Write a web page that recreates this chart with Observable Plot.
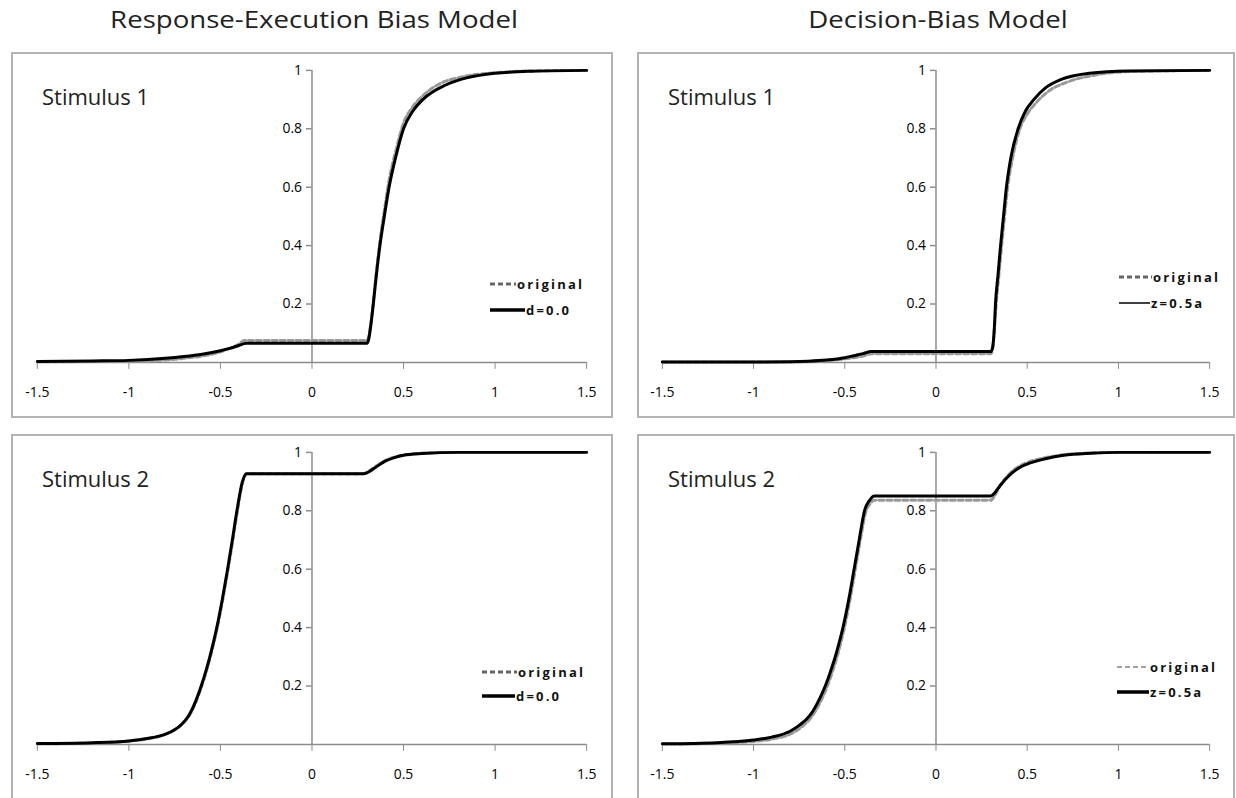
<!DOCTYPE html>
<html><head><meta charset="utf-8">
<script src="https://cdn.jsdelivr.net/npm/d3@7"></script>
<script src="https://cdn.jsdelivr.net/npm/@observablehq/plot@0.6"></script>
<style>
body{margin:0;background:#fff;}
#root{position:relative;width:1236px;height:798px;overflow:hidden;font-family:"Open Sans",sans-serif;}
.title{position:absolute;top:3px;font-size:23px;color:#222;white-space:nowrap;transform:translateX(-50%) scaleX(1.2);}
.panel{position:absolute;box-sizing:border-box;border:2px solid #b4b4b4;}
.stim{position:absolute;font-size:22px;color:#222;white-space:nowrap;line-height:1;}
.leg{position:absolute;display:flex;align-items:center;font-size:13px;font-weight:bold;letter-spacing:2.2px;color:#111;white-space:nowrap;height:16px;transform:translateY(-50%);}
.leg svg{display:block;margin-right:1px;}
</style></head><body><div id="root"></div><script>
// ---- tick values and labels ----
const xTicks = [-1.5, -1, -0.5, 0, 0.5, 1, 1.5];
const xTickLabels = ["-1.5", "-1", "-0.5", "0", "0.5", "1", "1.5"];
const yTicks = [0.2, 0.4, 0.6, 0.8, 1];
const yTickLabels = ["0.2", "0.4", "0.6", "0.8", "1"];
const modelTitles = ["Response-Execution Bias Model", "Decision-Bias Model"];
const stimulusLabels = ["Stimulus 1", "Stimulus 2"];
const originalLabel = "original";
const fitLabels = ["d=0.0", "z=0.5a"];

// ---- Response-Execution Bias Model, Stimulus 1 ----
const reS1OrigX = [-1.5, -1.2, -1.0, -0.8, -0.7, -0.6, -0.5, -0.45, -0.4, -0.37, 0, 0.3, 0.31, 0.32, 0.335, 0.35, 0.37, 0.395, 0.42, 0.46, 0.5, 0.55, 0.6, 0.7, 0.8, 1.0, 1.2, 1.5];
const reS1OrigY = [0.002, 0.003, 0.004, 0.008, 0.014, 0.022, 0.036, 0.048, 0.062, 0.075, 0.075, 0.075, 0.09, 0.13, 0.21, 0.30, 0.41, 0.52, 0.62, 0.73, 0.82, 0.875, 0.91, 0.955, 0.975, 0.992, 0.998, 1.0];
const reS1FitX = [-1.5, -1.2, -1.0, -0.8, -0.7, -0.6, -0.5, -0.45, -0.4, -0.36, 0, 0.3, 0.31, 0.32, 0.335, 0.35, 0.371, 0.395, 0.421, 0.46, 0.5, 0.55, 0.605, 0.73, 0.85, 1.0, 1.2, 1.5];
const reS1FitY = [0.003, 0.005, 0.007, 0.014, 0.02, 0.028, 0.04, 0.048, 0.058, 0.066, 0.066, 0.066, 0.08, 0.12, 0.2, 0.29, 0.4, 0.5, 0.6, 0.71, 0.8, 0.86, 0.9, 0.95, 0.975, 0.99, 0.997, 1.0];

// ---- Decision-Bias Model, Stimulus 1 ----
const dbS1OrigX = [-1.5, -0.8, -0.7, -0.6, -0.5, -0.4, -0.35, 0, 0.3, 0.31, 0.32, 0.33, 0.345, 0.36, 0.376, 0.393, 0.42, 0.46, 0.5, 0.55, 0.62, 0.72, 0.88, 1.1, 1.5];
const dbS1OrigY = [0.001, 0.001, 0.003, 0.006, 0.012, 0.022, 0.03, 0.03, 0.03, 0.045, 0.11, 0.2, 0.3, 0.4, 0.5, 0.6, 0.7, 0.8, 0.85, 0.89, 0.93, 0.96, 0.985, 0.997, 1.0];
const dbS1FitX = [-1.5, -1.0, -0.8, -0.7, -0.6, -0.5, -0.45, -0.4, -0.355, 0, 0.3, 0.31, 0.32, 0.326, 0.34, 0.354, 0.37, 0.386, 0.41, 0.45, 0.49, 0.536, 0.6, 0.69, 0.84, 1.05, 1.5];
const dbS1FitY = [0.001, 0.001, 0.002, 0.004, 0.008, 0.016, 0.023, 0.03, 0.037, 0.037, 0.037, 0.05, 0.12, 0.2, 0.3, 0.4, 0.5, 0.6, 0.7, 0.8, 0.86, 0.9, 0.94, 0.97, 0.99, 0.998, 1.0];

// ---- Response-Execution Bias Model, Stimulus 2 ----
const reS2OrigX = [-1.5, -1.2, -1.0, -0.9, -0.8, -0.75, -0.708, -0.669, -0.631, -0.602, -0.577, -0.555, -0.535, -0.517, -0.486, -0.458, -0.432, -0.407, -0.377, -0.356, 0, 0.28, 0.3, 0.32, 0.35, 0.4, 0.45, 0.5, 0.6, 0.8, 1.5];
const reS2OrigY = [0.002, 0.005, 0.011, 0.019, 0.034, 0.05, 0.07, 0.1, 0.15, 0.2, 0.25, 0.3, 0.35, 0.4, 0.5, 0.6, 0.7, 0.8, 0.9, 0.927, 0.927, 0.927, 0.932, 0.94, 0.953, 0.972, 0.984, 0.991, 0.997, 1.0, 1.0];
const reS2FitX = [-1.5, -1.2, -1.0, -0.9, -0.8, -0.75, -0.71, -0.672, -0.634, -0.605, -0.58, -0.558, -0.538, -0.52, -0.489, -0.461, -0.435, -0.41, -0.38, -0.358, 0, 0.28, 0.3, 0.32, 0.35, 0.4, 0.45, 0.5, 0.6, 0.8, 1.5];
const reS2FitY = [0.003, 0.006, 0.012, 0.02, 0.035, 0.05, 0.07, 0.1, 0.15, 0.2, 0.25, 0.3, 0.35, 0.4, 0.5, 0.6, 0.7, 0.8, 0.9, 0.927, 0.927, 0.927, 0.93, 0.937, 0.95, 0.97, 0.982, 0.99, 0.996, 1.0, 1.0];

// ---- Decision-Bias Model, Stimulus 2 ----
const dbS2OrigX = [-1.5, -1.2, -1.0, -0.9, -0.8, -0.74, -0.675, -0.63, -0.595, -0.567, -0.542, -0.521, -0.502, -0.47, -0.442, -0.415, -0.383, -0.36, -0.34, 0, 0.3, 0.32, 0.35, 0.4, 0.45, 0.5, 0.6, 0.7, 0.85, 1.0, 1.5];
const dbS2OrigY = [0.001, 0.004, 0.01, 0.018, 0.035, 0.058, 0.1, 0.15, 0.2, 0.25, 0.3, 0.35, 0.4, 0.5, 0.6, 0.7, 0.8, 0.825, 0.836, 0.836, 0.836, 0.85, 0.885, 0.925, 0.95, 0.965, 0.982, 0.992, 0.998, 1.0, 1.0];
const dbS2FitX = [-1.5, -1.2, -1.0, -0.9, -0.8, -0.75, -0.69, -0.643, -0.607, -0.578, -0.552, -0.53, -0.51, -0.477, -0.449, -0.421, -0.392, -0.365, -0.338, 0, 0.3, 0.32, 0.35, 0.4, 0.45, 0.5, 0.6, 0.7, 0.85, 1.0, 1.5];
const dbS2FitY = [0.002, 0.006, 0.015, 0.025, 0.045, 0.065, 0.1, 0.15, 0.2, 0.25, 0.3, 0.35, 0.4, 0.5, 0.6, 0.7, 0.8, 0.835, 0.851, 0.851, 0.851, 0.86, 0.885, 0.92, 0.945, 0.96, 0.978, 0.99, 0.997, 1.0, 1.0];

// ---- layout (not data) ----
const panels = [
  {left: 11,  top: 52,  w: 602, h: 366, ml: 26, mr: 23, stim: 0, fit: 0, ox: reS1OrigX, oy: reS1OrigY, fx: reS1FitX, fy: reS1FitY,
   leg: [{x: 477, y: 230, sw: 26, dash: true, color: "#666", width: 3}, {x: 477, y: 256, sw: 35, dash: false, color: "#000", width: 3.5}]},
  {left: 637, top: 52,  w: 598, h: 366, ml: 25, mr: 22, stim: 0, fit: 1, ox: dbS1OrigX, oy: dbS1OrigY, fx: dbS1FitX, fy: dbS1FitY,
   leg: [{x: 480, y: 223, sw: 33, dash: true, color: "#666", width: 3}, {x: 480, y: 249, sw: 31, dash: false, color: "#000", width: 1.5}]},
  {left: 11,  top: 434, w: 602, h: 366, ml: 26, mr: 23, stim: 1, fit: 0, ox: reS2OrigX, oy: reS2OrigY, fx: reS2FitX, fy: reS2FitY,
   leg: [{x: 469, y: 236, sw: 35, dash: true, color: "#666", width: 3}, {x: 469, y: 260, sw: 33, dash: false, color: "#000", width: 3.5}]},
  {left: 637, top: 434, w: 598, h: 366, ml: 25, mr: 22, stim: 1, fit: 1, ox: dbS2OrigX, oy: dbS2OrigY, fx: dbS2FitX, fy: dbS2FitY,
   leg: [{x: 478, y: 231, sw: 32, dash: true, color: "#888", width: 1.5}, {x: 478, y: 256, sw: 32, dash: false, color: "#000", width: 3.5}]}
];
const marginTop = 18, marginBottom = 54;

const root = document.getElementById("root");
const rows = (xs, ys) => xs.map((x, i) => ({x, y: ys[i]}));

// titles centred over the x = 0 axis of each column
[[0, 314], [1, 938]].forEach(([t, cx]) => {
  const d = document.createElement("div");
  d.className = "title";
  d.style.left = cx + "px";
  d.textContent = modelTitles[t];
  root.appendChild(d);
});

panels.forEach(p => {
  const box = document.createElement("div");
  box.className = "panel";
  Object.assign(box.style, {left: p.left + "px", top: p.top + "px", width: p.w + "px", height: p.h + "px"});
  root.appendChild(box);

  const svg = Plot.plot({
    width: p.w, height: p.h,
    marginTop, marginBottom, marginLeft: p.ml, marginRight: p.mr,
    style: {background: "transparent", fontFamily: "Open Sans", fontSize: "14px", overflow: "visible"},
    x: {domain: [-1.5, 1.5], axis: null},
    y: {domain: [0, 1], axis: null},
    marks: [
      Plot.ruleY([0], {stroke: "#8c8c8c", strokeWidth: 1.5}),
      Plot.ruleX([0], {stroke: "#8c8c8c", strokeWidth: 1.5}),
      Plot.axisX(xTicks, {anchor: "bottom", label: null, tickSize: 7, tickPadding: 18, stroke: "#8c8c8c", fill: "#000", fontSize: 14,
        tickFormat: d => xTickLabels[xTicks.indexOf(d)]}),
      Plot.ruleY(yTicks, {x1: -0.03, x2: 0, stroke: "#8c8c8c", strokeWidth: 1.5}),
      Plot.text(yTicks, {x: 0, y: d => d, text: d => yTickLabels[yTicks.indexOf(d)], dx: -10, textAnchor: "end", fill: "#000", fontSize: 14}),
      Plot.line(rows(p.ox, p.oy), {x: "x", y: "y", stroke: "#999", strokeWidth: 3, strokeDasharray: "5,3", curve: "monotone-x"}),
      Plot.line(rows(p.fx, p.fy), {x: "x", y: "y", stroke: "#000", strokeWidth: 3, curve: "monotone-x", strokeLinejoin: "round"})
    ]
  });
  Object.assign(svg.style, {position: "absolute", left: "-2px", top: "-2px"});
  box.appendChild(svg);

  const st = document.createElement("div");
  st.className = "stim";
  Object.assign(st.style, {left: "29px", top: "31px"});
  st.textContent = stimulusLabels[p.stim];
  box.appendChild(st);

  const labels = [originalLabel, fitLabels[p.fit]];
  p.leg.forEach((l, k) => {
    const row = document.createElement("div");
    row.className = "leg";
    Object.assign(row.style, {left: l.x + "px", top: l.y + "px"});
    const ns = "http://www.w3.org/2000/svg";
    const s = document.createElementNS(ns, "svg");
    s.setAttribute("width", l.sw); s.setAttribute("height", 8);
    const ln = document.createElementNS(ns, "line");
    ln.setAttribute("x1", 0); ln.setAttribute("x2", l.sw); ln.setAttribute("y1", 4); ln.setAttribute("y2", 4);
    ln.setAttribute("stroke", l.color); ln.setAttribute("stroke-width", l.width);
    if (l.dash) ln.setAttribute("stroke-dasharray", "5,3");
    s.appendChild(ln);
    row.appendChild(s);
    const tx = document.createElement("span");
    tx.textContent = labels[k];
    row.appendChild(tx);
    box.appendChild(row);
  });
});
</script></body></html>
